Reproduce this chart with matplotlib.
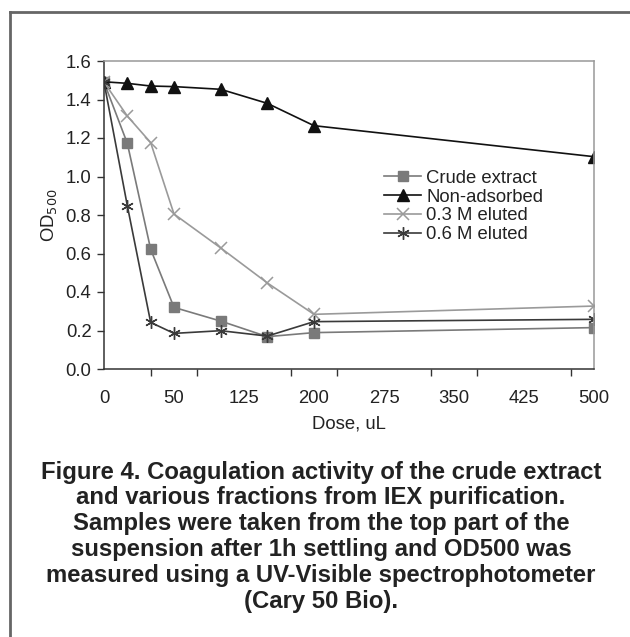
import matplotlib.pyplot as plt
from matplotlib.lines import Line2D

plt.rcParams['font.family'] = ['Liberation Sans', 'DejaVu Sans']

# x positions as drawn on the original chart axis (first point sits at the "0" label)
dose_pos = [-25, 0, 25, 50, 100, 150, 200, 500]

crude = [1.49, 1.172, 0.622, 0.320, 0.249, 0.168, 0.189, 0.215]
non_adsorbed = [1.492, 1.484, 1.470, 1.467, 1.453, 1.380, 1.264, 1.103]
eluted_03 = [1.49, 1.314, 1.176, 0.805, 0.629, 0.447, 0.284, 0.327]
eluted_06 = [1.49, 0.848, 0.242, 0.185, 0.199, 0.171, 0.246, 0.258]

xtick_pos = [-25, 50, 125, 200, 275, 350, 425, 500]
xtick_labels = ['0', '50', '125', '200', '275', '350', '425', '500']
xminor_pos = [-25, 25, 75, 125, 175, 225, 275, 325, 375, 425, 475]

caption = [
    "Figure 4. Coagulation activity of the crude extract",
    "and various fractions from IEX purification.",
    "Samples were taken from the top part of the",
    "suspension after 1h settling and OD500 was",
    "measured using a UV-Visible spectrophotometer",
    "(Cary 50 Bio).",
]

W, H = 630, 637
fs = 13.3
fig = plt.figure(figsize=(W / 100, H / 100), dpi=100)
ax = fig.add_axes([104 / W, 1 - 369 / H, 490 / W, 308 / H])

ax.plot(dose_pos, crude, color='#7a7a7a', lw=1.2, marker='s', ms=7,
        mfc='#7a7a7a', mec='#7a7a7a', label='Crude extract')
ax.plot(dose_pos, non_adsorbed, color='#111111', lw=1.2, marker='^', ms=8,
        mfc='#111111', mec='#111111', label='Non-adsorbed')
ax.plot(dose_pos, eluted_03, color='#9a9a9a', lw=1.2, marker='x', ms=8,
        mew=1.1, label='0.3 M eluted')
ax.plot(dose_pos, eluted_06, color='#3a3a3a', lw=1.2, marker=(6, 2, 0), ms=9,
        mew=1.0, label='0.6 M eluted')

ax.set_xlim(-25, 500)
ax.set_ylim(0, 1.6)
ax.set_yticks([0, 0.2, 0.4, 0.6, 0.8, 1.0, 1.2, 1.4, 1.6])
ax.set_yticklabels(['0.0', '0.2', '0.4', '0.6', '0.8', '1.0', '1.2', '1.4', '1.6'])
ax.set_xticks(xtick_pos)
ax.set_xticklabels(xtick_labels)
ax.set_xticks(xminor_pos, minor=True)
ax.tick_params(axis='x', which='major', length=0, pad=15, labelsize=fs, colors='#222222')
ax.tick_params(axis='x', which='minor', length=5, width=1, color='#333333', direction='out')
ax.tick_params(axis='y', length=5, width=1, color='#333333', pad=4, labelsize=fs,
               labelcolor='#222222')

for s in ['left', 'bottom']:
    ax.spines[s].set_color('#333333')
    ax.spines[s].set_linewidth(1.1)
for s in ['top', 'right']:
    ax.spines[s].set_color('#999999')
    ax.spines[s].set_linewidth(1.1)

ax.set_xlabel('Dose, uL', fontsize=fs, color='#222222', labelpad=6)
ax.set_ylabel('OD$_{500}$', fontsize=fs, color='#222222', labelpad=5)

ax.legend(loc='upper left', bbox_to_anchor=(0.553, 0.677), frameon=False,
          fontsize=fs, handlelength=2.0, handletextpad=0.27, labelspacing=0.1,
          borderpad=0, labelcolor='#222222')

# outer frame (left and top edges)
fig.add_artist(Line2D([10 / W, 10 / W], [0, 1 - 12 / H], transform=fig.transFigure,
                      color='#666666', lw=2))
fig.add_artist(Line2D([10 / W, 1], [1 - 12 / H, 1 - 12 / H], transform=fig.transFigure,
                      color='#666666', lw=2))

for i, line in enumerate(caption):
    y = 472 + i * 25.9
    fig.text(321 / W, 1 - y / H, line, ha='center', va='center', fontsize=17.2,
             fontweight='bold', color='#222222')

fig.savefig('out.png', dpi=100)
